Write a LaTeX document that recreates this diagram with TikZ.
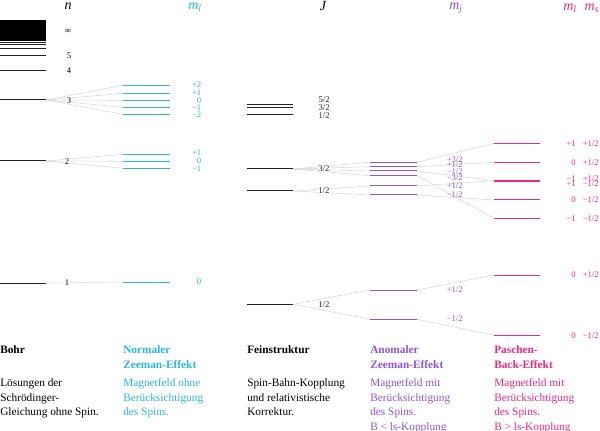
\documentclass[tikz,border=0pt]{standalone}
\usepackage{fontspec}
\setmainfont{Liberation Serif}
\definecolor{zc}{HTML}{2BB5DA}
\definecolor{ac}{HTML}{8A55DD}
\definecolor{pc}{HTML}{F0287A}
\definecolor{conncol}{HTML}{D6D6D6}
\definecolor{levk}{HTML}{222222}
\begin{document}
\begin{tikzpicture}[x=0.75pt,y=-0.75pt,
  lev/.style={line width=0.75pt},
  conn/.style={draw=conncol,line width=0.4pt},
  lab/.style={font=\fontsize{6.5}{7}\selectfont,inner sep=0pt},
  hdr/.style={font=\fontsize{10.5}{12}\selectfont\itshape,inner sep=0pt},
  ttl/.style={font=\fontsize{8.5}{10.9}\selectfont\bfseries,inner sep=0pt,anchor=north west,align=left},
  dsc/.style={font=\fontsize{8.5}{10.9}\selectfont,inner sep=0pt,anchor=north west,align=left}]
\useasboundingbox (0,0) rectangle (600,431);

% headers
\node[hdr] (hn) at (68,6) {n};
\node[hdr,text=zc] (hml) at (195,7.5) {m\textsubscript{l}};
\node[hdr] (hJ) at (323,6) {J};
\node[hdr,text=ac] (hmj) at (456,8) {m\textsubscript{j}};
\node[hdr,text=pc] (hml2) at (570,8) {m\textsubscript{l}};
\node[hdr,text=pc] (hms) at (592,8) {m\textsubscript{s}};

% Bohr levels
\fill[black] (0,20) rectangle (46,41);
\foreach \yy in {42.6,44.7,48.3,56,70.7}{\draw[lev,levk] (0,\yy) -- (46,\yy);}
\draw[lev,levk] (0,100) coordinate (b3l) -- (46,100) coordinate (b3r);
\draw[lev,levk] (0,161) coordinate (b2l) -- (46,161) coordinate (b2r);
\draw[lev,levk] (0,283) coordinate (b1l) -- (46,283) coordinate (b1r);
\node[lab] (linf) at (68,31) {∞};
\node[lab] (l5) at (69,56) {5};
\node[lab] (l4) at (69,71) {4};

% Zeeman levels
\foreach \nm/\yy in {z3a/85.3,z3b/93.3,z3c/100.3,z3d/107.3,z3e/114.3,z2a/154.3,z2b/161.3,z2c/168.3,z1/282}{
  \draw[lev,zc] (123,\yy) coordinate (\nm l) -- (170,\yy) coordinate (\nm r);}

% Fine structure levels
\foreach \nm/\yy in {f3a/104.3,f3b/108,f3c/114.7,f2a/169,f2b/191,f1/304.3}{
  \draw[lev,levk] (247,\yy) coordinate (\nm l) -- (293,\yy) coordinate (\nm r);}

% Anomalous Zeeman levels
\foreach \nm/\yy in {a2a/162.3,a2b/166.7,a2c/171,a2d/175.7,a2e/186,a2f/195,a1a/290,a1b/319.3}{
  \draw[lev,ac] (370,\yy) coordinate (\nm l) -- (417,\yy) coordinate (\nm r);}

% Paschen-Back levels
\foreach \nm/\yy in {p2a/143.3,p2b/162.3,p2d/200,p2e/218.3,p1a/275,p1b/335.3}{
  \draw[lev,pc] (494,\yy) coordinate (\nm l) -- (540,\yy) coordinate (\nm r);}
\draw[line width=1.6pt,pc] (494,180.7) coordinate (p2cl) -- (540,180.7) coordinate (p2cr);

% connectors
\foreach \t in {z3a,z3b,z3c,z3d,z3e}{\draw[conn] (b3r) -- (\t l);}
\foreach \t in {z2a,z2b,z2c}{\draw[conn] (b2r) -- (\t l);}
\draw[conn] (b1r) -- (z1l);
\foreach \t in {a2a,a2b,a2c,a2d}{\draw[conn] (f2ar) -- (\t l);}
\foreach \t in {a2e,a2f}{\draw[conn] (f2br) -- (\t l);}
\foreach \t in {a1a,a1b}{\draw[conn] (f1r) -- (\t l);}
\foreach \s/\t in {a2a/p2a,a2b/p2b,a2c/p2c,a2d/p2e,a2e/p2c,a2f/p2d,a1a/p1a,a1b/p1b}{\draw[conn] (\s r) -- (\t l);}

% Bohr labels (over connectors)
\node[lab,fill=white,inner sep=0.3pt] (l3) at (69,101) {3};
\node[lab,fill=white,inner sep=0.3pt] (l2) at (67,162) {2};
\node[lab,fill=white,inner sep=0.3pt] (l1) at (67,283) {1};

% Zeeman labels
\foreach \nm/\yy/\tx in {zl1/84.5/+2,zl2/92.7/+1,zl3/100.3/0,zl4/107.7/−1,zl5/114.8/−2,zl6/152.7/+1,zl7/160.7/0,zl8/168.8/−1,zl9/281.7/0}{
  \node[lab,text=zc,anchor=east] (\nm) at (201.5,\yy) {\tx};}

% Fine labels
\foreach \nm/\yy/\tx in {fl1/99.5/5\slash 2,fl2/107.7/3\slash 2,fl3/115.5/1\slash 2}{
  \node[lab,text=levk,anchor=east] (\nm) at (330,\yy) {\tx};}
\node[lab,text=levk,anchor=east,fill=white,inner sep=0.3pt] (fl4) at (330,169) {3/2};
\node[lab,text=levk,anchor=east,fill=white,inner sep=0.3pt] (fl5) at (330,191) {1/2};
\node[lab,text=levk,anchor=east,fill=white,inner sep=0.3pt] (fl6) at (330,305) {1/2};

% Anomalous labels
\foreach \nm/\yy/\tx in {al1/160/+3\slash 2,al2/165/+1\slash 2,al3/171.5/−1\slash 2,al4/177.3/−3\slash 2,al5/186/+1\slash 2,al6/195/−1\slash 2,al7/290/+1\slash 2,al8/319/−1\slash 2}{
  \node[lab,text=ac,anchor=east] (\nm) at (463,\yy) {\tx};}

% Paschen-Back labels
\foreach \nm/\yy/\ta/\tb in {pl1/143.3/+1/+1\slash 2,pl2/162.3/0/+1\slash 2,pl3/178.3/−1/+1\slash 2,pl4/183.3/+1/−1\slash 2,pl5/200/0/−1\slash 2,pl6/218.3/−1/−1\slash 2,pl7/275/0/+1\slash 2,pl8/335.3/0/−1\slash 2}{
  \node[lab,text=pc,anchor=east] (\nm a) at (576,\yy) {\ta};
  \node[lab,text=pc,anchor=east] (\nm b) at (599,\yy) {\tb};}

% titles
\node[ttl] (tB) at (0,345.5) {Bohr};
\node[ttl,text=zc] (tZ) at (123,345.5) {Normaler\\Zeeman-Effekt};
\node[ttl] (tF) at (247,345.5) {Feinstruktur};
\node[ttl,text=ac] (tA) at (370,345.5) {Anomaler\\Zeeman-Effekt};
\node[ttl,text=pc] (tP) at (494,345.5) {Paschen-\\Back-Effekt};

% descriptions
\node[dsc] (dB) at (0,378.5) {Lösungen der\\Schrödinger-\\Gleichung ohne Spin.};
\node[dsc,text=zc] (dZ) at (123,378.5) {Magnetfeld ohne\\Berücksichtigung\\des Spins.};
\node[dsc] (dF) at (247,378.5) {Spin-Bahn-Kopplung\\und relativistische\\Korrektur.};
\node[dsc,text=ac] (dA) at (370,378.5) {Magnetfeld mit\\Berücksichtigung\\des Spins.\\B < ls-Kopplung};
\node[dsc,text=pc] (dP) at (494,378.5) {Magnetfeld mit\\Berücksichtigung\\des Spins.\\B > ls-Kopplung};
\end{tikzpicture}
\end{document}
